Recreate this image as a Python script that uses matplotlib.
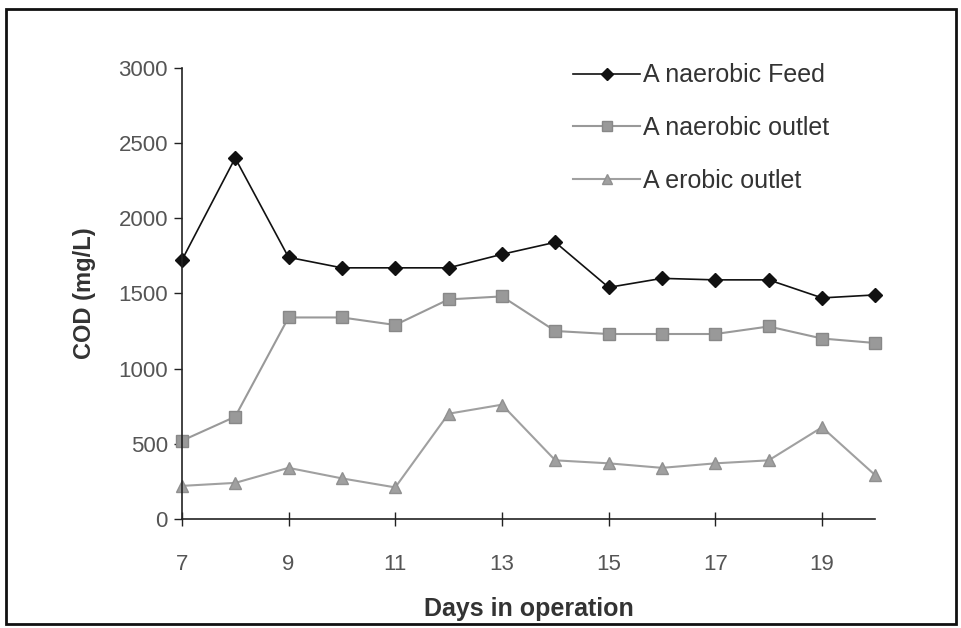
import matplotlib
matplotlib.use("Agg")
import matplotlib.pyplot as plt
from matplotlib.patches import Rectangle

plt.rcParams['font.family'] = ['Liberation Sans', 'DejaVu Sans']

days = [7, 8, 9, 10, 11, 12, 13, 14, 15, 16, 17, 18, 19, 20]
feed = [1720, 2400, 1740, 1670, 1670, 1670, 1760, 1840, 1540, 1600, 1590, 1590, 1470, 1490]
anaerobic_out = [520, 680, 1340, 1340, 1290, 1460, 1480, 1250, 1230, 1230, 1230, 1280, 1200, 1170]
aerobic_out = [220, 240, 340, 270, 210, 700, 760, 390, 370, 340, 370, 390, 610, 290]
x_ticks = [7, 9, 11, 13, 15, 17, 19]
y_ticks = [0, 500, 1000, 1500, 2000, 2500, 3000]

fig = plt.figure(figsize=(9.62, 6.28), dpi=100)
ax = fig.add_axes([0.189, 0.1736, 0.721, 0.7184])

ax.plot(days, feed, color='#111111', lw=1.2, marker='D', ms=7,
        mfc='#111111', mec='#111111', label='A naerobic Feed', clip_on=False)
ax.plot(days, anaerobic_out, color='#999999', lw=1.5, marker='s', ms=8,
        mfc='#999999', mec='#888888', label='A naerobic outlet', clip_on=False)
ax.plot(days, aerobic_out, color='#a0a0a0', lw=1.5, marker='^', ms=9,
        mfc='#a0a0a0', mec='#909090', label='A erobic outlet', clip_on=False)

ax.set_xlim(7, 20)
ax.set_ylim(0, 3000)
ax.set_xticks(x_ticks)
ax.set_yticks(y_ticks)
ax.tick_params(labelsize=16, colors='#222222', labelcolor='#555555', width=1)
ax.tick_params(axis='x', direction='inout', length=10, pad=20)
ax.tick_params(axis='y', length=6, pad=4)
ax.spines['top'].set_visible(False)
ax.spines['right'].set_visible(False)
for s in ('left', 'bottom'):
    ax.spines[s].set_color('#222222')
    ax.spines[s].set_linewidth(1.2)

ax.set_xlabel('Days in operation', fontsize=18, fontweight='bold', color='#333333', labelpad=16)
ax.set_ylabel('COD (mg/L)', fontsize=17, fontweight='bold', color='#333333', labelpad=16)

leg = fig.legend(*ax.get_legend_handles_labels(), loc='upper left',
                 bbox_to_anchor=(0.572, 0.935), frameon=False,
                 fontsize=18, handlelength=2.7, labelspacing=1.15, handletextpad=0.12,
                 markerscale=0.85)
for t in leg.get_texts():
    t.set_color('#333333')

fig.patches.append(Rectangle((0.006, 0.006), 0.988, 0.98, transform=fig.transFigure,
                             fill=False, edgecolor='#111111', lw=2))

fig.savefig('out.png', dpi=100)
